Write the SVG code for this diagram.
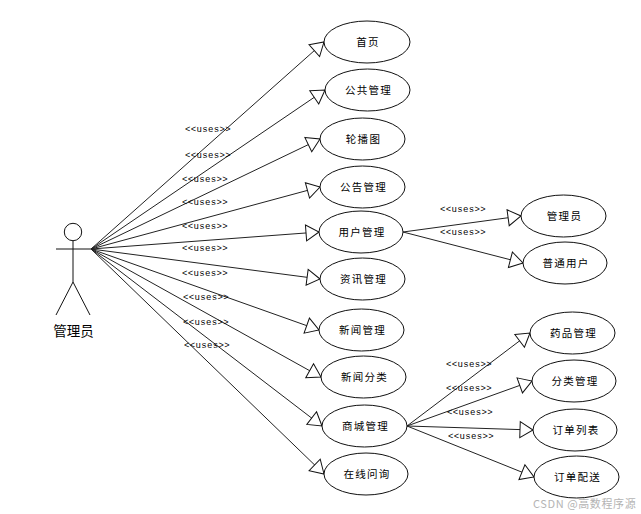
<svg xmlns="http://www.w3.org/2000/svg" width="641" height="514" viewBox="0 0 641 514">
<style>
.n{fill:#fff;stroke:#111;stroke-width:1}
.t{font:10.5px "Noto Sans CJK SC","Liberation Sans",sans-serif;letter-spacing:1.3px;text-anchor:middle;dominant-baseline:central;fill:#000}
.u{font:9px "Liberation Mono",monospace;letter-spacing:.35px;dominant-baseline:central;fill:#000}
.c line{stroke:#222;stroke-width:1;marker-end:url(#a)}
.act{fill:none;stroke:#111;stroke-width:1}
</style>
<defs><marker id="a" markerUnits="userSpaceOnUse" markerWidth="16" markerHeight="18" refX="14" refY="9" orient="auto" overflow="visible"><path d="M1,1L14,9L1,17Z" fill="#fff" stroke="#111" stroke-width="1"/></marker></defs>
<rect width="641" height="514" fill="#fff"/>
<g id="connectors" class="c">
<line x1="91" y1="249" x2="324" y2="42"/><line x1="91" y1="249" x2="325" y2="90"/><line x1="91" y1="249" x2="320" y2="139"/><line x1="91" y1="249" x2="320" y2="187"/><line x1="91" y1="249" x2="319" y2="232"/><line x1="91" y1="249" x2="320" y2="279"/><line x1="91" y1="249" x2="319" y2="330"/><line x1="91" y1="249" x2="321" y2="377"/><line x1="91" y1="249" x2="322" y2="426"/><line x1="91" y1="249" x2="324" y2="474"/>
<line x1="403" y1="232" x2="521" y2="216"/><line x1="403" y1="232" x2="523" y2="263"/>
<line x1="407" y1="426" x2="530" y2="333"/><line x1="407" y1="426" x2="532" y2="381"/><line x1="407" y1="426" x2="533" y2="430"/><line x1="407" y1="426" x2="534" y2="477"/>
</g>
<g id="labels">
<text class="u" x="185" y="130">&lt;&lt;uses&gt;&gt;</text><text class="u" x="185" y="156">&lt;&lt;uses&gt;&gt;</text><text class="u" x="182" y="180">&lt;&lt;uses&gt;&gt;</text><text class="u" x="182" y="203">&lt;&lt;uses&gt;&gt;</text><text class="u" x="182" y="227">&lt;&lt;uses&gt;&gt;</text><text class="u" x="182" y="249">&lt;&lt;uses&gt;&gt;</text><text class="u" x="182" y="274">&lt;&lt;uses&gt;&gt;</text><text class="u" x="183" y="298">&lt;&lt;uses&gt;&gt;</text><text class="u" x="183" y="323">&lt;&lt;uses&gt;&gt;</text><text class="u" x="184" y="346">&lt;&lt;uses&gt;&gt;</text>
<text class="u" x="440" y="210">&lt;&lt;uses&gt;&gt;</text><text class="u" x="440" y="233">&lt;&lt;uses&gt;&gt;</text><text class="u" x="446" y="365">&lt;&lt;uses&gt;&gt;</text><text class="u" x="446" y="389">&lt;&lt;uses&gt;&gt;</text><text class="u" x="447" y="413">&lt;&lt;uses&gt;&gt;</text><text class="u" x="448" y="437">&lt;&lt;uses&gt;&gt;</text>
</g>
<g id="actor"><circle class="act" cx="73" cy="232" r="8.7"/><path class="act" d="M56,249H91M73,241V282M73,282L56,315M73,282L90,315"/><text x="73.500" y="330" style="font:13.500px 'Noto Sans CJK SC',sans-serif;text-anchor:middle;dominant-baseline:central;fill:#000">管理员</text></g>
<g id="n1"><ellipse class="n" cx="367" cy="42" rx="43" ry="21"/><text class="t" x="368" y="41.500">首页</text></g>
<g id="n2"><ellipse class="n" cx="367.500" cy="90" rx="42.500" ry="21"/><text class="t" x="368.500" y="89.500">公共管理</text></g>
<g id="n3"><ellipse class="n" cx="362.500" cy="139" rx="42.500" ry="21"/><text class="t" x="363.500" y="138.500">轮播图</text></g>
<g id="n4"><ellipse class="n" cx="362.500" cy="187" rx="42.500" ry="21"/><text class="t" x="363.500" y="186.500">公告管理</text></g>
<g id="n5"><ellipse class="n" cx="361" cy="232" rx="42" ry="21"/><text class="t" x="362" y="231.500">用户管理</text></g>
<g id="n6"><ellipse class="n" cx="362.500" cy="279" rx="42.500" ry="21"/><text class="t" x="363.500" y="278.500">资讯管理</text></g>
<g id="n7"><ellipse class="n" cx="361.500" cy="330" rx="42.500" ry="21"/><text class="t" x="362.500" y="329.500">新闻管理</text></g>
<g id="n8"><ellipse class="n" cx="363.500" cy="377" rx="42.500" ry="21"/><text class="t" x="364.500" y="376.500">新闻分类</text></g>
<g id="n9"><ellipse class="n" cx="364.500" cy="426" rx="42.500" ry="21"/><text class="t" x="365.500" y="425.500">商城管理</text></g>
<g id="n10"><ellipse class="n" cx="366" cy="474" rx="42" ry="21"/><text class="t" x="367" y="473.500">在线问询</text></g>
<g id="n11"><ellipse class="n" cx="563.500" cy="216" rx="42.500" ry="21"/><text class="t" x="564.500" y="215.500">管理员</text></g>
<g id="n12"><ellipse class="n" cx="565" cy="263" rx="42" ry="21"/><text class="t" x="566" y="262.500">普通用户</text></g>
<g id="n13"><ellipse class="n" cx="572.500" cy="333" rx="42.500" ry="21"/><text class="t" x="573.500" y="332.500">药品管理</text></g>
<g id="n14"><ellipse class="n" cx="574" cy="381" rx="42" ry="21"/><text class="t" x="575" y="380.500">分类管理</text></g>
<g id="n15"><ellipse class="n" cx="575" cy="430" rx="42" ry="21"/><text class="t" x="576" y="429.500">订单列表</text></g>
<g id="n16"><ellipse class="n" cx="576.500" cy="477" rx="42.500" ry="21"/><text class="t" x="577.500" y="476.500">订单配送</text></g>
<text x="533" y="502.500" style="font:11px 'Noto Sans CJK SC','Liberation Sans',sans-serif;letter-spacing:.6px;dominant-baseline:central;fill:#b4b4b4">CSDN @高数程序源</text>
</svg>
